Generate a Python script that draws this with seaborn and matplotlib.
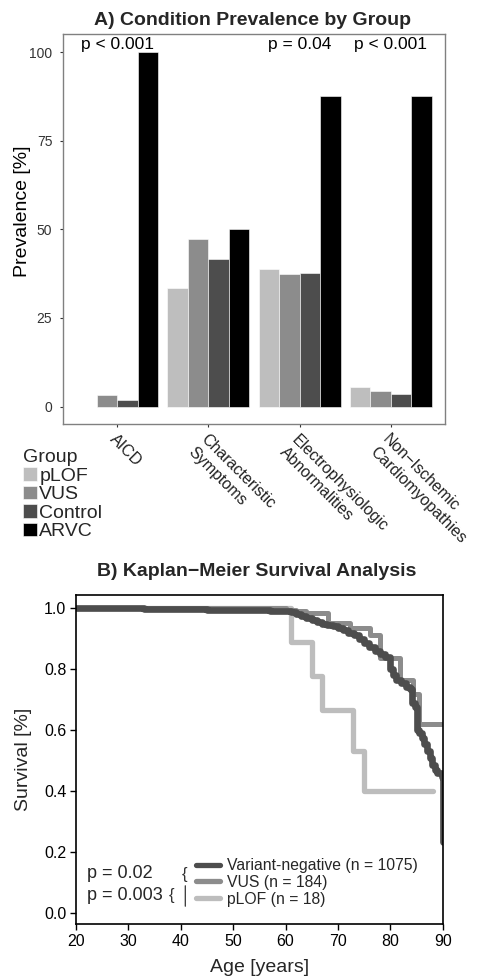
import numpy as np
import pandas as pd
import matplotlib
matplotlib.use("Agg")
import matplotlib.pyplot as plt
import seaborn as sns
from matplotlib.lines import Line2D

sns.set_style("white")
plt.rcParams['font.family'] = ['Liberation Sans', 'DejaVu Sans']

# ---------------- Data: Panel A ----------------
conditions = ['AICD', 'Characteristic\nSymptoms', 'Electrophysiologic\nAbnormalities',
              'Non\u2212Ischemic\nCardiomyopathies']
groups = ['pLOF', 'VUS', 'Control', 'ARVC']
prev_pLOF = [0.0, 33.4, 38.9, 5.5]
prev_VUS = [3.2, 47.3, 37.5, 4.3]
prev_Control = [1.8, 41.7, 37.8, 3.5]
prev_ARVC = [100.0, 50.0, 87.5, 87.5]
pvals_A = ['p < 0.001', '', 'p = 0.04', 'p < 0.001']
bar_colors = ['#bebebe', '#8c8c8c', '#4d4d4d', '#000000']

# ---------------- Data: Panel B ----------------
age_neg = [20, 33, 45, 52, 57, 60, 61, 62, 63, 64, 65, 66, 67, 68, 69, 70, 71, 72, 73, 74,
           75, 76, 77, 78, 79, 80, 80.5, 81, 82, 83, 83.8, 84.1, 84.7, 85, 85.5, 86, 86.5,
           87, 87.5, 88, 88.5, 89, 89.8, 90, 90]
surv_neg = [1.0, 0.998, 0.996, 0.995, 0.993, 0.990, 0.988, 0.982, 0.976, 0.970, 0.963,
            0.956, 0.950, 0.946, 0.941, 0.935, 0.928, 0.920, 0.912, 0.900, 0.887, 0.872,
            0.860, 0.850, 0.840, 0.800, 0.780, 0.765, 0.755, 0.742, 0.735, 0.690, 0.677,
            0.600, 0.590, 0.575, 0.555, 0.530, 0.510, 0.485, 0.470, 0.460, 0.447, 0.447, 0.233]
age_vus = [20, 60, 62, 64, 68.2, 72.3, 76.1, 78.0, 81.9, 84.4, 85.4, 90]
surv_vus = [1.0, 0.995, 0.990, 0.985, 0.951, 0.934, 0.912, 0.836, 0.765, 0.720, 0.620, 0.620]
age_plof = [20, 61, 65, 67, 72.9, 75, 88.1]
surv_plof = [1.0, 0.889, 0.778, 0.667, 0.533, 0.400, 0.400]
km_labels = ['Variant-negative (n = 1075)', 'VUS (n = 184)', 'pLOF (n = 18)']
km_colors = ['#4d4d4d', '#8c8c8c', '#bdbdbd']
km_widths = [4.8, 3.6, 3.8]

# ---------------- Figure ----------------
W, H = 482, 980
fig = plt.figure(figsize=(W / 100, H / 100), dpi=100)

def fx(px):
    return px / W

def fy(py):
    return 1 - py / H

axA = fig.add_axes([fx(62.7), fy(424.3), (445.3 - 62.7) / W, (424.3 - 34.3) / H])
axB = fig.add_axes([fx(76), fy(924.3), (442.7 - 76) / W, (924.3 - 595) / H])

# ---- Panel A ----
dfA = pd.DataFrame({
    'condition': np.repeat(conditions, len(groups)),
    'group': groups * len(conditions),
    'prevalence': np.array([prev_pLOF, prev_VUS, prev_Control, prev_ARVC]).T.ravel(),
})
sns.barplot(data=dfA, x='condition', y='prevalence', hue='group', order=conditions,
            hue_order=groups, palette=bar_colors, width=0.9, gap=0, dodge=True,
            edgecolor='white', linewidth=0.4, ax=axA)
axA.set_xlim(-0.6, 3.6)
axA.set_ylim(-5, 105)
axA.set_yticks([0, 25, 50, 75, 100])
axA.set_xlabel('')
axA.set_ylabel('Prevalence [%]', fontsize=14, color='black')
axA.yaxis.label.set_va('center')
axA.yaxis.set_label_coords((22.5 - 62.7) / 382.6, 0.547)
for s in axA.spines.values():
    s.set_color('#808080')
    s.set_linewidth(1.0)
axA.tick_params(axis='y', length=2.5, width=0.8, color='#333333', labelcolor='#333333',
                labelsize=10, pad=5, left=True)
axA.tick_params(axis='x', length=2.5, width=0.8, color='#333333', labelcolor='#222222',
                labelsize=11.5, pad=3, bottom=True)
for lbl in axA.get_xticklabels():
    lbl.set_rotation(-45)
    lbl.set_ha('left')
    lbl.set_va('top')
    lbl.set_rotation_mode('anchor')
    lbl.set_multialignment('left')
for i, t in enumerate(pvals_A):
    if t:
        axA.text(i, 102, t, ha='center', va='center', fontsize=12.5, color='black')

handles, labels = axA.get_legend_handles_labels()
legA = axA.legend(handles, labels, title='Group', loc='upper left',
                  bbox_to_anchor=(fx(23), fy(449)), bbox_transform=fig.transFigure,
                  frameon=False, fontsize=14, title_fontsize=14, handlelength=0.72,
                  handleheight=0.7, handletextpad=0.12, labelspacing=0.05,
                  borderpad=0, borderaxespad=0, alignment='left')

fig.text(fx(253), fy(25), 'A) Condition Prevalence by Group', ha='center', va='baseline',
         fontsize=14, fontweight='bold')

# ---- Panel B ----
dfB = pd.concat([
    pd.DataFrame({'age': age_plof, 'survival': surv_plof, 'group': km_labels[2]}),
    pd.DataFrame({'age': age_vus, 'survival': surv_vus, 'group': km_labels[1]}),
    pd.DataFrame({'age': age_neg, 'survival': surv_neg, 'group': km_labels[0]}),
], ignore_index=True)
for lab, col, lw in reversed(list(zip(km_labels, km_colors, km_widths))):
    sub = dfB[dfB['group'] == lab]
    sns.lineplot(data=sub, x='age', y='survival', estimator=None, sort=False,
                 drawstyle='steps-post', color=col, linewidth=lw, ax=axB, legend=False)

axB.set_xlim(20, 90)
axB.set_ylim(-0.038, 1.044)
axB.set_xticks([20, 30, 40, 50, 60, 70, 80, 90])
axB.set_yticks([0, 0.2, 0.4, 0.6, 0.8, 1.0])
axB.set_yticklabels(['0.0', '0.2', '0.4', '0.6', '0.8', '1.0'])
for s in axB.spines.values():
    s.set_color('black')
    s.set_linewidth(1.2)
axB.tick_params(length=4, width=1.0, color='black', labelcolor='black', labelsize=11.5,
                pad=3, left=True, bottom=True)
axB.set_xlabel('Age [years]', fontsize=14)
axB.xaxis.label.set_va('center')
axB.xaxis.set_label_coords(0.5, -(967 - 924.3) / 329.3)
axB.set_ylabel('Survival [%]', fontsize=14)
axB.yaxis.label.set_va('center')
axB.yaxis.set_label_coords((24 - 76) / 366.7, 0.5)

km_handles = [Line2D([0], [0], color=c, lw=3.8, solid_capstyle='round') for c in km_colors]
axB.legend(km_handles, km_labels, loc='upper left', bbox_to_anchor=(fx(196), fy(858)),
           bbox_transform=fig.transFigure, frameon=False, fontsize=11.3, handlelength=1.55,
           handletextpad=0.45, labelspacing=0.12, borderpad=0, borderaxespad=0)

def bx(px):
    return 20 + (px - 76) / 366.7 * 70

def by(py):
    return (912.7 - py) / 304.4

axB.text(bx(87), by(873), 'p = 0.02', fontsize=13, va='center', ha='left')
axB.text(bx(87), by(895), 'p = 0.003', fontsize=13, va='center', ha='left')
axB.text(bx(169), by(895), '{', fontsize=12, va='center', ha='left', color='#333333')
axB.text(bx(182), by(874), '{', fontsize=12, va='center', ha='left', color='#333333')
axB.annotate('', xy=(fx(185.3), fy(909)), xytext=(fx(185.3), fy(883)),
             xycoords='figure fraction', textcoords='figure fraction',
             arrowprops=dict(arrowstyle='-', color='#333333', lw=0.9))

fig.text(fx(257), fy(576), 'B) Kaplan\u2212Meier Survival Analysis', ha='center',
         va='baseline', fontsize=14, fontweight='bold')

fig.savefig('out.png', dpi=100)
